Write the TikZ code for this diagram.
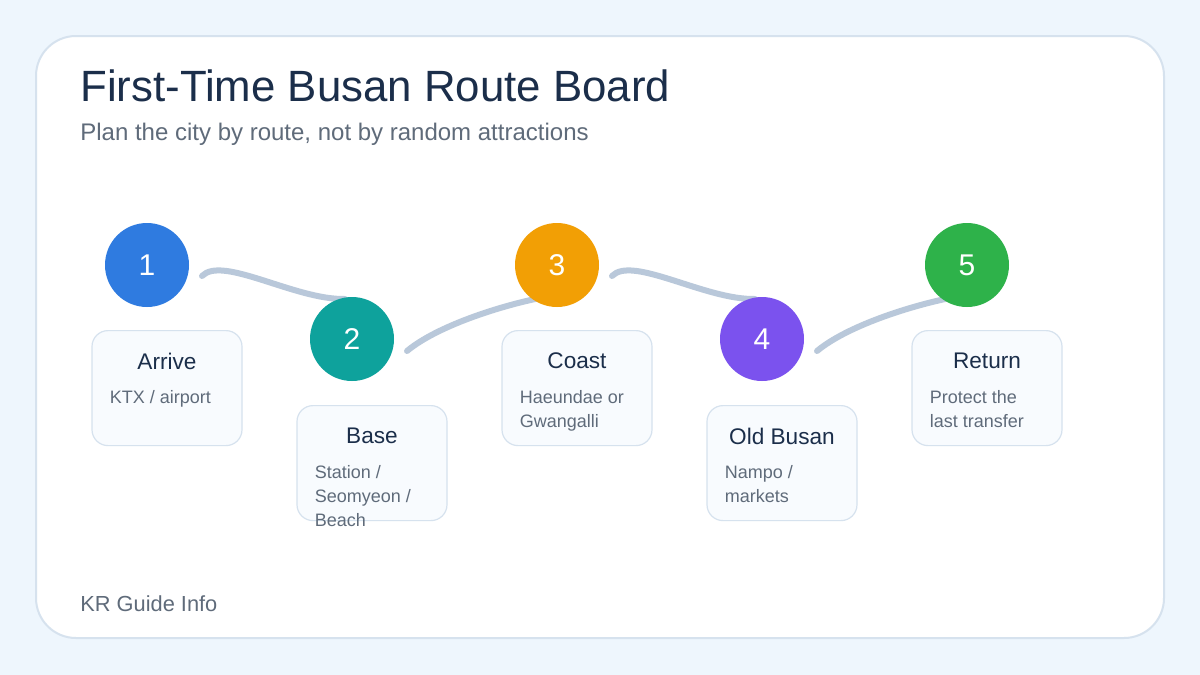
\documentclass[tikz,border=0pt]{standalone}
\usepackage{fontspec}
\setmainfont{Liberation Sans}
\usetikzlibrary{calc}
\definecolor{pagebg}{HTML}{EEF6FD}
\definecolor{boardline}{HTML}{D6E2EE}
\definecolor{cardfill}{HTML}{F8FBFE}
\definecolor{inkdark}{HTML}{1B2E4A}
\definecolor{inkgray}{HTML}{5F6B7A}
\definecolor{routeline}{HTML}{B9C8DA}
\definecolor{stopblue}{HTML}{2F7BE0}
\definecolor{stopteal}{HTML}{0EA29C}
\definecolor{stoporange}{HTML}{F29F05}
\definecolor{stoppurple}{HTML}{7B52EE}
\definecolor{stopgreen}{HTML}{2EB24A}
\pgfdeclarelayer{background}
\pgfsetlayers{background,main}
\tikzset{
stopdot/.style = {circle, fill=#1, minimum size=42pt,
              inner sep=0pt, text=white, font=\fontsize{15}{17}\selectfont},
stopdot/.default = stopblue,
stopcard/.style = {draw=boardline, fill=cardfill, line width=0.6pt,
              rounded corners=8pt, minimum width=75pt, minimum height=57.5pt, anchor=north},
cardtitle/.style = {text=inkdark, inner sep=0pt, font=\fontsize{11.3}{13}\selectfont},
cardtext/.style = {text=inkgray, inner sep=0pt, anchor=north west, align=left,
              font=\fontsize{9}{12}\selectfont},
route/.style = {draw=routeline, line width=3pt, line cap=round}
}
\newcommand{\busstop}[4]{\node[stopdot=#3] (#1) at (#2) {#4};}
\newcommand{\placecard}[4]{\node[stopcard] (#1) at (#2) {};
  \node[cardtitle] (#1-t) at ($(#1.north)+(0,31)$) {#3};
  \node[cardtext] (#1-s) at ($(#1.north west)+(18,60)$) {#4};}

\begin{document}
\begin{tikzpicture}[x=0.5pt, y=-0.5pt]
        \useasboundingbox (0,0) rectangle (1200,675);
        \begin{pgfonlayer}{background}
        \fill[pagebg] (0,0) rectangle (1200,675);
        \draw[boardline, fill=white, line width=1pt, rounded corners=20pt] (36,36) rectangle (1164,638);
        \end{pgfonlayer}
        \node[anchor=base west, inner sep=0pt, text=inkdark, font=\fontsize{21.9}{26}\selectfont] (title) at (80,101) {First-Time Busan Route Board};
        \node[anchor=base west, inner sep=0pt, text=inkgray, font=\fontsize{12}{14}\selectfont] (subtitle) at (80,140) {Plan the city by route, not by random attractions};
        % stops
        \busstop{s1}{147,265}{stopblue}{1}
        \busstop{s2}{352,339}{stopteal}{2}
        \busstop{s3}{557,265}{stoporange}{3}
        \busstop{s4}{762,339}{stoppurple}{4}
        \busstop{s5}{967,265}{stopgreen}{5}
        % cards
        \placecard{k1}{167,330}{Arrive}{KTX / airport}
        \placecard{k2}{372,405}{Base}{Station /\\Seomyeon /\\Beach}
        \placecard{k3}{577,330}{Coast}{Haeundae or\\Gwangalli}
        \placecard{k4}{782,405}{Old Busan}{Nampo /\\markets}
        \placecard{k5}{987,330}{Return}{Protect the\\last transfer}
        % route lines under the stops
        \begin{pgfonlayer}{background}
        \draw[route] ([shift={(55,11)}]s1.center) .. controls +(20,-21) and +(-50,1) .. ([shift={(-7,-40)}]s2.center);
        \draw[route] ([shift={(55,12)}]s2.center) .. controls +(30,-25) and +(-40,8) .. ([shift={(-17,33)}]s3.center);
        \draw[route] ([shift={(55,11)}]s3.center) .. controls +(20,-21) and +(-50,1) .. ([shift={(-7,-40)}]s4.center);
        \draw[route] ([shift={(55,12)}]s4.center) .. controls +(30,-25) and +(-40,8) .. ([shift={(-17,33)}]s5.center);
        \end{pgfonlayer}
        \node[anchor=base west, inner sep=0pt, text=inkgray, font=\fontsize{10.9}{13}\selectfont] (footer) at (80,611) {KR Guide Info};
\end{tikzpicture}
\end{document}
